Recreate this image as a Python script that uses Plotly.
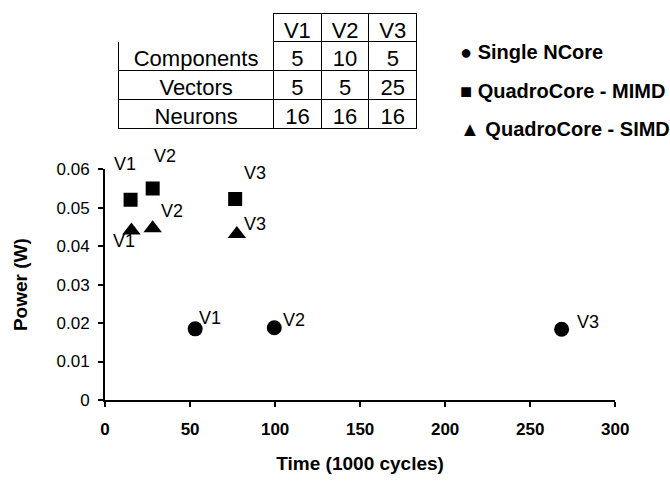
import plotly.graph_objects as go

# ---- data ----
versions = ["V1", "V2", "V3"]
single_x = [53, 99.5, 268.5]
single_y = [0.0185, 0.0188, 0.0184]
mimd_x = [15, 28, 76.5]
mimd_y = [0.0521, 0.0550, 0.0523]
simd_x = [15.5, 28, 77.5]
simd_y = [0.0441, 0.0447, 0.0432]

table_rows = ["Components", "Vectors", "Neurons"]
table_v1 = [5, 5, 16]
table_v2 = [10, 5, 16]
table_v3 = [5, 25, 16]

series_names = ["Single NCore", "QuadroCore - MIMD", "QuadroCore - SIMD"]

W, H = 670, 481
FONT = "Liberation Sans, Arial, sans-serif"

fig = go.Figure()

# label offsets (pixels) per series/point
offsets = {
    "single": [(15, 11), (20, 8), (26, 7)],
    "mimd": [(-6, 36), (12, 33), (20, 26)],
    "simd": [(-7, -11), (19, 17), (18, 10)],
}

series = [
    ("single", single_x, single_y, "circle", 15),
    ("mimd", mimd_x, mimd_y, "square", 14),
    ("simd", simd_x, simd_y, "triangle-up", 16),
]

for key, xs, ys, sym, sz in series:
    fig.add_trace(go.Scatter(
        x=xs, y=ys, mode="markers",
        marker=dict(symbol=sym, size=sz, color="black"),
        showlegend=False, xaxis="x", yaxis="y",
    ))
    for (xv, yv, lab, (dx, dy)) in zip(xs, ys, versions, offsets[key]):
        fig.add_annotation(x=xv, y=yv, xref="x", yref="y", text=lab,
                           showarrow=False, xshift=dx, yshift=dy,
                           font=dict(family=FONT, size=18, color="black"))

# table
fig.add_trace(go.Table(
    domain=dict(x=[117 / W, 424 / W], y=[1 - 132 / H, 1 - 5 / H]),
    columnwidth=[159, 49, 49, 49],
    header=dict(values=[""] + versions, height=28,
                line=dict(color=["white", "black", "black", "black"], width=1),
                fill=dict(color="white"), align="center",
                font=dict(family=FONT, size=22, color="black")),
    cells=dict(values=[table_rows, table_v1, table_v2, table_v3], height=29,
               line=dict(color="black", width=1), fill=dict(color="white"),
               align="center", font=dict(family=FONT, size=22, color="black")),
))

# manual legend
symbols = ["●", "■", "▲"]
legend_y = [45, 85, 125]
for s, name, ly in zip(symbols, series_names, legend_y):
    fig.add_annotation(x=466 / W, y=1 - ly / H, xref="paper", yref="paper",
                       xanchor="left", yanchor="middle", showarrow=False,
                       text=f"<b>{s} {name}</b>",
                       font=dict(family=FONT, size=20, color="black"))

fig.update_layout(
    width=W, height=H, margin=dict(l=0, r=0, t=0, b=0),
    paper_bgcolor="white", plot_bgcolor="white",
    showlegend=False,
    xaxis=dict(domain=[103 / W, 628 / W], range=[0, 300], dtick=50,
               showgrid=False, zeroline=False, showline=True,
               linecolor="black", linewidth=2, ticks="outside",
               ticklen=5, tickwidth=2, tickcolor="black",
               ticklabelstandoff=8,
               tickfont=dict(family=FONT, size=17, color="black", weight="bold"),
               title=dict(text="<b>Time (1000 cycles)</b>", standoff=18,
                          font=dict(family=FONT, size=19, color="black"))),
    yaxis=dict(domain=[1 - 407 / H, 1 - 167 / H], range=[0, 0.06], dtick=0.01,
               showgrid=False, zeroline=False, showline=True,
               linecolor="black", linewidth=2, ticks="outside",
               ticklen=5, tickwidth=2, tickcolor="black",
               ticklabelstandoff=5,
               tickfont=dict(family=FONT, size=17, color="black"),
               title=dict(text="<b>Power (W)</b>", standoff=24,
                          font=dict(family=FONT, size=19, color="black"))),
)

fig.write_html("out.html")
